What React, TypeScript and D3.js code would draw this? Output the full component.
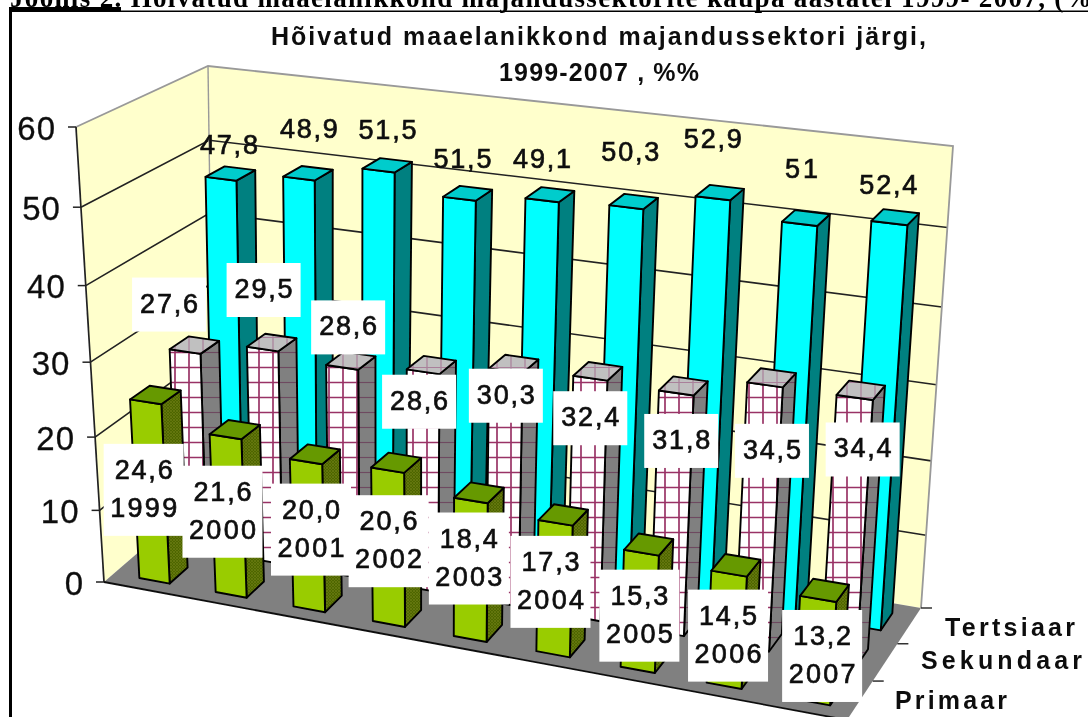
import React from "react";
import * as d3 from "d3";

const years = ["1999", "2000", "2001", "2002", "2003", "2004", "2005", "2006", "2007"];
const rows = ["Primaar", "Sekundaar", "Tertsiaar"];
const primaar = [24.6, 21.6, 20.0, 20.6, 18.4, 17.3, 15.3, 14.5, 13.2];
const sekundaar = [27.6, 29.5, 28.6, 29.6, 31.3, 31.9, 31.6, 34.2, 34.2];
const tertsiaar = [47.6, 48.9, 51.2, 48.8, 49.9, 50.3, 52.7, 50.8, 52.2];
const tertsiaarText = ["47,8", "48,9", "51,5", "51,5", "49,1", "50,3", "52,9", "51", "52,4"];
const sekundaarText = ["27,6", "29,5", "28,6", "28,6", "30,3", "32,4", "31,8", "34,5", "34,4"];
const primaarText = ["24,6", "21,6", "20,0", "20,6", "18,4", "17,3", "15,3", "14,5", "13,2"];
const yTicks = [0, 10, 20, 30, 40, 50, 60];

// label offsets from the top of each bar's front face
const priNudge = [[-2, 88], [-3, 75], [5, 68], [1, 71], [-2, 58], [-5, 59], [-2, 63], [-1, 62], [4, 57]];
const secNudge = [[-16, -47], [1, -59], [6, -40], [-4, 30], [0, 25], [0, 40], [5, 48], [7, 66], [8, 52]];
const terNudge = [[8, -34], [10, -50], [9, -41], [3, -40], [0, -41], [4, -55], [0, -59], [2, -55], [-1, -38]];

type Pt = [number, number];
const FL: Pt = [104, 582], FR: Pt = [847, 720], BR: Pt = [921, 608], BL: Pt = [214, 487];
const FLT: Pt = [76, 127], FRT: Pt = [878, 220], BRT: Pt = [953, 146], BLT: Pt = [208, 66];

// unit square -> quad homography
function homography(p00: Pt, p10: Pt, p11: Pt, p01: Pt) {
  const dx1 = p10[0] - p11[0], dx2 = p01[0] - p11[0], sx = p00[0] - p10[0] + p11[0] - p01[0];
  const dy1 = p10[1] - p11[1], dy2 = p01[1] - p11[1], sy = p00[1] - p10[1] + p11[1] - p01[1];
  const den = dx1 * dy2 - dx2 * dy1;
  const g = (sx * dy2 - dx2 * sy) / den, h = (dx1 * sy - sx * dy1) / den;
  const a = p10[0] - p00[0] + g * p10[0], b = p01[0] - p00[0] + h * p01[0], c = p00[0];
  const d = p10[1] - p00[1] + g * p10[1], e = p01[1] - p00[1] + h * p01[1], f = p00[1];
  return (u: number, v: number): Pt => {
    const w = g * u + h * v + 1;
    return [(a * u + b * v + c) / w, (d * u + e * v + f) / w];
  };
}
const floorH = homography(FL, FR, BR, BL);
const topH = homography(FLT, FRT, BRT, BLT);
const yScale = d3.scaleLinear().domain([0, 60]).range([0, 1]);
const warp = (f: number) => f / (1 + 0.07 * (1 - f));
const P = (u: number, val: number, v: number): Pt => {
  const a = floorH(u, v), b = topH(u, v), t = warp(yScale(val));
  return [a[0] + (b[0] - a[0]) * t, a[1] + (b[1] - a[1]) * t];
};
const xBand = d3.scaleBand().domain(years).range([0.004, 1.004]).paddingInner(0.6).paddingOuter(0.3);
const zBand = d3.scaleBand().domain(rows).range([0, 1]).paddingInner(0.52).paddingOuter(0.26);
const line = d3.line<Pt>();
const poly = (pts: Pt[]) => line(pts)! + "Z";

const FONT = "'Liberation Sans', Arial, sans-serif";
const INK = "#111";

function Bar({ year, row, value, front, side, top }: any) {
  const x0 = xBand(year)!, x1 = x0 + xBand.bandwidth();
  const z0 = zBand(row)!, z1 = z0 + zBand.bandwidth();
  const s = { stroke: "#000", strokeWidth: 1.9, strokeLinejoin: "round" as const };
  const sidePts = [P(x1, 0, z0), P(x1, 0, z1), P(x1, value, z1), P(x1, value, z0)];
  const frontPts = [P(x0, 0, z0), P(x1, 0, z0), P(x1, value, z0), P(x0, value, z0)];
  const topPts = [P(x0, value, z0), P(x1, value, z0), P(x1, value, z1), P(x0, value, z1)];
  return (
    <g {...s}>
      <path d={poly(sidePts)} fill={side} />
      <path d={poly(frontPts)} fill={front} />
      <path d={poly(topPts)} fill={top} />
    </g>
  );
}

const topCentre = (year: string, row: string, value: number): Pt =>
  P(xBand(year)! + xBand.bandwidth() / 2, value, zBand(row)!);

function Txt({ x, y, len, size = 27, children }: any) {
  return (
    <text x={x} y={y} textAnchor="middle" dominantBaseline="central" fontFamily={FONT} fontSize={size}
      fill={INK} stroke={INK} strokeWidth={0.7} textLength={len} lengthAdjust="spacing">
      {children}
    </text>
  );
}

export default function App() {
  const wallLeft = poly([FL, BL, BLT, FLT]);
  const wallBack = poly([BL, BR, BRT, BLT]);
  const floor = poly([FL, FR, BR, BL]);
  return (
    <svg width={1088} height={717} viewBox="0 0 1088 717"
      style={{ position: "absolute", left: 0, top: 0, background: "#fff" }}>
      <defs>
        <filter id="soft" x="0" y="0" width="100%" height="100%">
          <feGaussianBlur stdDeviation={0.45} />
        </filter>
        <pattern id="grid" width={14} height={15} patternUnits="userSpaceOnUse">
          <rect width={14} height={15} fill="#fff" />
          <path d="M7 0V15M0 7.5H14" stroke="#993366" strokeWidth={1.7} />
        </pattern>
        <pattern id="gridSide" width={14} height={15} patternUnits="userSpaceOnUse">
          <rect width={14} height={15} fill="#808080" />
          <path d="M0 7.5H14" stroke="#6e4a60" strokeWidth={1.2} />
        </pattern>
        <pattern id="gridTop" width={14} height={15} patternUnits="userSpaceOnUse">
          <rect width={14} height={15} fill="#c0c0c0" />
          <path d="M7 0V15M0 7.5H14" stroke="#a9809a" strokeWidth={1.2} />
        </pattern>
        <pattern id="hatch" width={3} height={3} patternUnits="userSpaceOnUse">
          <rect width={3} height={3} fill="#4d6600" />
          <path d="M0 0L3 3M3 0L0 3" stroke="#6b7a10" strokeWidth={0.7} />
        </pattern>
      </defs>

      <g filter="url(#soft)">
        {/* page heading, cut by the top of the picture */}
        <text x={10} y={7} fontFamily="'Liberation Serif', serif" fontWeight="bold" fontSize={27}
          textLength={1092} lengthAdjust="spacing" fill="#000">
          Joonis 2. Hõivatud maaelanikkond majandussektorite kaupa aastatel 1999- 2007, (%)
        </text>
        <rect x={9} y={7} width={112} height={4.5} fill="#000" />
        <rect x={9} y={10.5} width={1079} height={1.5} fill="#000" />
        <rect x={9} y={10.5} width={3} height={707} fill="#000" />

        {/* walls and floor */}
        <path d={wallLeft} fill="#ffffcc" stroke="none" />
        <path d={wallBack} fill="#ffffcc" stroke="none" />
        <path d={floor} fill="#808080" stroke="none" />
        {yTicks.filter(t => t > 0 && t < 60).map(t => (
          <g key={t} stroke="#222" strokeWidth={1.6} fill="none">
            <path d={line([P(0, t, 0), P(0, t, 1), P(1, t, 1)])!} />
          </g>
        ))}
        <path d={line([P(0, 60, 0), P(0, 60, 1), P(1, 60, 1), P(1, 0, 1)])!} stroke="#999" strokeWidth={1.8} fill="none" />
        <path d={line([P(0, 60, 1), P(0, 0, 1)])!} stroke="#999" strokeWidth={1.4} fill="none" />
        <path d={line([P(0, 60, 0), P(0, 0, 0)])!} stroke="#222" strokeWidth={1.7} fill="none" />
        <path d={line([FL, FR])!} stroke="#111" strokeWidth={1.8} fill="none" />

        {/* value axis */}
        {yTicks.map(t => {
          const [x, y] = P(0, t, 0);
          return (
            <g key={t}>
              <line x1={x - 8} x2={x} y1={y} y2={y} stroke="#222" strokeWidth={1.5} />
              <text x={x - 20} y={y + 1} textAnchor="end" dominantBaseline="central" fontFamily={FONT}
                fontSize={33} fill="#111" stroke="#111" strokeWidth={0.3} letterSpacing={1}>{t}</text>
            </g>
          );
        })}

        {/* depth axis ticks */}
        {[1, 2 / 3, 1 / 3].map((v, i) => {
          const [x, y] = floorH(1, v);
          return <line key={i} x1={x} x2={x + 11} y1={y} y2={y} stroke="#222" strokeWidth={1.4} />;
        })}

        {/* bars, back row first */}
        {years.map((y, i) => (
          <Bar key={"t" + y} year={y} row="Tertsiaar" value={tertsiaar[i]} front="#00ffff" side="#008080" top="#00cccc" />
        ))}
        {years.map((y, i) => (
          <Bar key={"s" + y} year={y} row="Sekundaar" value={sekundaar[i]} front="url(#grid)" side="url(#gridSide)" top="url(#gridTop)" />
        ))}
        {years.map((y, i) => (
          <Bar key={"p" + y} year={y} row="Primaar" value={primaar[i]} front="#99cc00" side="url(#hatch)" top="#669900" />
        ))}

        {/* data labels */}
        {years.map((y, i) => {
          const [cx, cy] = topCentre(y, "Tertsiaar", tertsiaar[i]);
          return (
            <Txt key={"tl" + y} x={cx + terNudge[i][0]} y={cy + terNudge[i][1]} len={tertsiaarText[i].length > 2 ? 58 : 33}>
              {tertsiaarText[i]}
            </Txt>
          );
        })}
        {years.map((y, i) => {
          const [cx, cy] = topCentre(y, "Sekundaar", sekundaar[i]);
          const bx = cx + secNudge[i][0], by = cy + secNudge[i][1];
          return (
            <g key={"sl" + y}>
              <rect x={bx - 37} y={by - 27} width={74} height={54} fill="#fff" />
              <Txt x={bx} y={by - 1} len={58}>{sekundaarText[i]}</Txt>
            </g>
          );
        })}
        {years.map((y, i) => {
          const [cx, cy] = topCentre(y, "Primaar", primaar[i]);
          const bx = cx + priNudge[i][0], by = cy + priNudge[i][1];
          return (
            <g key={"pl" + y}>
              <rect x={bx - 40} y={by - 46} width={80} height={92} fill="#fff" />
              <Txt x={bx} y={by - 20} len={58}>{primaarText[i]}</Txt>
              <Txt x={bx} y={by + 18} len={67}>{y}</Txt>
            </g>
          );
        })}

        {/* chart title */}
        <text x={598.5} y={36} textAnchor="middle" dominantBaseline="central" fontFamily={FONT} fontWeight="bold"
          fontSize={25} fill="#111" textLength={655} lengthAdjust="spacing">
          Hõivatud maaelanikkond majandussektori järgi,
        </text>
        <text x={599} y={72} textAnchor="middle" dominantBaseline="central" fontFamily={FONT} fontWeight="bold"
          fontSize={25} fill="#111" textLength={200} lengthAdjust="spacing">
          1999-2007 , %%
        </text>

        {/* depth axis labels */}
        {rows.map((r, i) => {
          const pos = [[951, 700, 112], [1001.5, 660, 161], [1010, 627, 130]][i];
          return (
            <text key={r} x={pos[0]} y={pos[1]} textAnchor="middle" dominantBaseline="central" fontFamily={FONT}
              fontWeight="bold" fontSize={25} fill="#111" textLength={pos[2]} lengthAdjust="spacing">{r}</text>
          );
        })}
      </g>
    </svg>
  );
}
